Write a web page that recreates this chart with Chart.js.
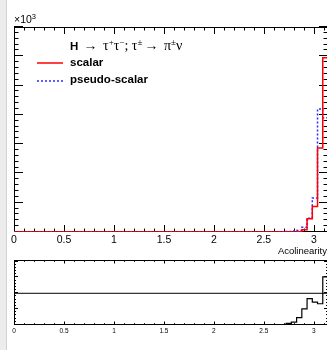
<!DOCTYPE html>
<html>
<head>
<meta charset="utf-8">
<script src="https://cdn.jsdelivr.net/npm/chart.js@4.4.1/dist/chart.umd.min.js"></script>
<style>
html, body { margin: 0; padding: 0; background: #fff; }
#wrap { position: relative; width: 327px; height: 350px; overflow: hidden; font-family: "Liberation Sans", Arial, sans-serif; }
#strip { position: absolute; left: 0; top: 0; width: 6px; height: 350px; background: #ececec; border-right: 1px solid #d2d2d2; }
#topChart { position: absolute; left: 0; top: 0; }
#botChart { position: absolute; left: 0; top: 255px; }
.lbl { position: absolute; white-space: nowrap; color: #000; line-height: 1; }
.serif { font-family: "Liberation Serif", "Times New Roman", serif; font-weight: normal; font-size: 14px; }
.sup { font-size: 9px; position: relative; top: -5px; }
.arr { display: inline-block; margin: 0 2px; }
</style>
</head>
<body>
<div id="wrap">
  <canvas id="topChart" width="330" height="255"></canvas>
  <canvas id="botChart" width="330" height="95"></canvas>
  <div id="strip"></div>
  <div class="lbl" style="left:14px; top:14px; font-size:10.5px;">×10<span class="sup" style="font-size:7.5px; top:-4px;">3</span></div>
  <div class="lbl" style="left:70px; top:39px; font-size:11.5px; font-weight:bold;">H <span class="serif"><span class="arr">→</span> τ<span class="sup">+</span>τ<span class="sup">−</span>; τ<span class="sup">±</span><span class="arr">→</span> π<span class="sup">±</span>ν</span></div>
  <svg class="lbl" style="left:37px; top:58px;" width="27" height="10"><line x1="0" y1="5" x2="26" y2="5" stroke="#ff0000" stroke-width="1.5"/></svg>
  <div class="lbl" style="left:70px; top:57px; font-size:11.5px; font-weight:bold;">scalar</div>
  <svg class="lbl" style="left:37px; top:76px;" width="27" height="10"><line x1="0" y1="5" x2="26" y2="5" stroke="#2a2aff" stroke-width="1.5" stroke-dasharray="2,2"/></svg>
  <div class="lbl" style="left:70px; top:74px; font-size:11.5px; font-weight:bold;">pseudo-scalar</div>
  <div class="lbl" style="right:0px; top:246px; font-size:9.5px;">Acolinearity</div>
</div>
<script>
// binning: 60 bins from 0 to pi
const nBins = 60;
const xMax = Math.PI;
const binEdges = Array.from({ length: nBins }, (_, i) => i * xMax / nBins);

// events per bin (y axis in units of 10^3)
const scalarCounts = [
    0, 0, 0, 0, 0, 0, 0, 0, 0, 0,
    0, 0, 0, 0, 0, 0, 0, 0, 0, 0,
    0, 0, 0, 0, 0, 0, 0, 0, 0, 0,
    0, 0, 0, 0, 0, 0, 0, 0, 0, 0,
    0, 0, 0, 0, 0, 0, 0, 0, 0, 0,
    0, 0, 1, 3, 12, 80, 450, 870, 2870, 5950
];
const pseudoCounts = [
    0, 0, 0, 0, 0, 0, 0, 0, 0, 0,
    0, 0, 0, 0, 0, 0, 0, 0, 0, 0,
    0, 0, 0, 0, 0, 0, 0, 0, 0, 0,
    0, 0, 0, 0, 0, 0, 0, 0, 0, 0,
    0, 0, 0, 0, 0, 0, 0, 0, 0, 0,
    0, 0, 20, 33, 52, 160, 470, 1160, 4200, 3900
];
// scalar / pseudo-scalar
const ratioValues = [
    0, 0, 0, 0, 0, 0, 0, 0, 0, 0,
    0, 0, 0, 0, 0, 0, 0, 0, 0, 0,
    0, 0, 0, 0, 0, 0, 0, 0, 0, 0,
    0, 0, 0, 0, 0, 0, 0, 0, 0, 0,
    0, 0, 0, 0, 0, 0, 0, 0, 0, 0,
    0, 0, 0.05, 0.09, 0.23, 0.51, 0.83, 0.72, 0.67, 1.52
];
const unityLine = [1, 1];

const xTickValues = [0, 0.5, 1, 1.5, 2, 2.5, 3];
const topYMax = 7000;
const botYMax = 2.05;

// histogram outline: one point per left bin edge plus the right edge
function histPoints(values) {
    const pts = values.map((v, i) => ({ x: binEdges[i], y: v }));
    pts.push({ x: xMax, y: values[values.length - 1] });
    return pts;
}

// ROOT-like frame with inward ticks on all four sides
function frameTicks(t) {
    return {
        id: 'frameTicks',
        beforeDatasetsDraw(chart) {
            const { ctx, chartArea: a, scales: { x, y } } = chart;
            ctx.save();
            ctx.strokeStyle = '#000';
            ctx.lineWidth = 1;
            ctx.strokeRect(a.left + 0.5, a.top + 0.5, a.right - a.left - 1, a.bottom - a.top - 1);
            ctx.beginPath();
            const xt = (v, len) => {
                const p = Math.round(x.getPixelForValue(v)) + 0.5;
                ctx.moveTo(p, a.bottom); ctx.lineTo(p, a.bottom - len);
                ctx.moveTo(p, a.top); ctx.lineTo(p, a.top + len);
            };
            const yt = (v, len) => {
                const p = Math.round(y.getPixelForValue(v)) - 0.5;
                ctx.moveTo(a.left, p); ctx.lineTo(a.left + len, p);
                ctx.moveTo(a.right, p); ctx.lineTo(a.right - len, p);
            };
            for (let k = 0; k * t.xMinor <= x.max + 1e-9; k++) {
                const v = k * t.xMinor;
                const major = Math.abs(v / t.xMajor - Math.round(v / t.xMajor)) < 1e-6;
                xt(v, major ? t.xMajLen : t.xMinLen);
            }
            for (let k = 0; k * t.yMinor <= y.max + 1e-9; k++) {
                const v = k * t.yMinor;
                const major = Math.abs(v / t.yMajor - Math.round(v / t.yMajor)) < 1e-6;
                yt(v, major ? t.yMajLen : t.yMinLen);
            }
            ctx.stroke();
            ctx.restore();
        }
    };
}

function xScale(fontSize, pad, height) {
    return {
        type: 'linear', min: 0, max: xMax,
        afterBuildTicks: s => { s.ticks = xTickValues.map(v => ({ value: v })); },
        afterFit: s => { s.height = height; },
        grid: { display: false, drawTicks: false },
        border: { display: false },
        ticks: {
            autoSkip: false, maxRotation: 0, padding: pad, color: '#000',
            font: { family: '"Liberation Sans", Arial, sans-serif', size: fontSize },
            callback: v => String(v)
        }
    };
}

Chart.defaults.animation = false;

new Chart(document.getElementById('topChart'), {
    type: 'line',
    data: {
        datasets: [
            { label: 'scalar', data: histPoints(scalarCounts), borderColor: '#ff0000', borderWidth: 1.5, stepped: true, pointRadius: 0, fill: false },
            { label: 'pseudo-scalar', data: histPoints(pseudoCounts), borderColor: '#2a2aff', borderWidth: 1.5, borderDash: [2, 2], stepped: true, pointRadius: 0, fill: false }
        ]
    },
    options: {
        responsive: false, devicePixelRatio: 1,
        layout: { padding: { left: 14, top: 27, right: 2, bottom: 0 } },
        plugins: { legend: { display: false }, tooltip: { enabled: false } },
        scales: {
            x: xScale(10.5, 2, 23),
            y: { type: 'linear', min: 0, max: topYMax, display: false }
        }
    },
    plugins: [frameTicks({ xMajor: 0.5, xMinor: 0.1, xMajLen: 7, xMinLen: 3.5, yMajor: 1000, yMinor: 200, yMajLen: 9, yMinLen: 4.5 })]
});

new Chart(document.getElementById('botChart'), {
    type: 'line',
    data: {
        datasets: [
            { label: 'ratio', data: histPoints(ratioValues), borderColor: '#000', borderWidth: 1.2, stepped: true, pointRadius: 0, fill: false },
            { label: 'one', data: [{ x: 0, y: unityLine[0] }, { x: xMax, y: unityLine[1] }], borderColor: '#000', borderWidth: 1, pointRadius: 0, fill: false }
        ]
    },
    options: {
        responsive: false, devicePixelRatio: 1,
        layout: { padding: { left: 14, top: 5, right: 2, bottom: 0 } },
        plugins: { legend: { display: false }, tooltip: { enabled: false } },
        scales: {
            x: xScale(6.5, 2, 25),
            y: { type: 'linear', min: 0, max: botYMax, display: false }
        }
    },
    plugins: [frameTicks({ xMajor: 0.5, xMinor: 0.1, xMajLen: 3.5, xMinLen: 1.8, yMajor: 0.5, yMinor: 0.1, yMajLen: 4, yMinLen: 2 })]
});
</script>
</body>
</html>
